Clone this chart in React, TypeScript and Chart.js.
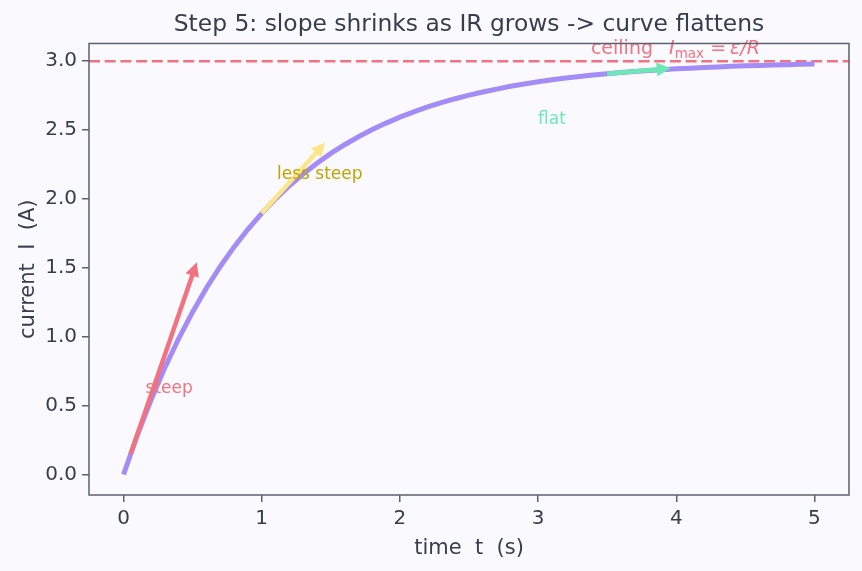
import React, { useEffect, useRef } from "react";
import { Chart, registerables } from "chart.js";

Chart.register(...registerables);

// ---- data ----
const timeValues = [
  0, 0.1, 0.2, 0.3, 0.4, 0.5, 0.6, 0.7, 0.8, 0.9,
  1.0, 1.1, 1.2, 1.3, 1.4, 1.5, 1.6, 1.7, 1.8, 1.9,
  2.0, 2.1, 2.2, 2.3, 2.4, 2.5, 2.6, 2.7, 2.8, 2.9,
  3.0, 3.1, 3.2, 3.3, 3.4, 3.5, 3.6, 3.7, 3.8, 3.9,
  4.0, 4.1, 4.2, 4.3, 4.4, 4.5, 4.6, 4.7, 4.8, 4.9, 5.0,
];
const currentValues = [
  0.0, 0.285, 0.544, 0.778, 0.989, 1.18, 1.354, 1.51, 1.652, 1.78,
  1.896, 2.001, 2.096, 2.182, 2.26, 2.331, 2.394, 2.452, 2.504, 2.551,
  2.594, 2.633, 2.668, 2.699, 2.728, 2.754, 2.777, 2.798, 2.818, 2.835,
  2.851, 2.865, 2.878, 2.889, 2.9, 2.909, 2.918, 2.926, 2.933, 2.939,
  2.945, 2.95, 2.955, 2.959, 2.963, 2.967, 2.97, 2.973, 2.975, 2.978, 2.98,
];
const ceilingValue = 3.0;
const xTickValues = [0, 1, 2, 3, 4, 5];
const yTickValues = [0, 0.5, 1.0, 1.5, 2.0, 2.5, 3.0];

const arrowLabels = ["steep", "less steep", "flat"];
const arrowStartT = [0.05, 1.0, 3.5];
const arrowStartI = [0.146, 1.896, 2.909];
const arrowEndT = [0.53, 1.46, 3.96];
const arrowEndI = [1.54, 2.41, 2.95];
const labelT = [0.33, 1.42, 3.1];
const labelI = [0.625, 2.175, 2.575];
const arrowColors = ["#f2727f", "#fde68a", "#6ee7b7"];
const labelColors = ["#f2727f", "#bfa300", "#6ee7b7"];

const ceilingLabelT = 3.994;
const ceilingLabelI = 3.095;

const TITLE = "Step 5: slope shrinks as IR grows -> curve flattens";
const X_TITLE = "time  t  (s)";
const Y_TITLE = "current  I  (A)";

const FONT = "'DejaVu Sans', sans-serif";
const TEXT = "#363d4d";
const SPINE = "#5b6170";
const RED = "#f2727f";
const PURPLE = "#a48cf7";

const overlay = {
  id: "overlay",
  afterDatasetsDraw(chart: any) {
    const { ctx } = chart;
    const x = chart.scales.x;
    const y = chart.scales.y;
    ctx.save();
    // arrows
    for (let i = 0; i < arrowLabels.length; i++) {
      const x0 = x.getPixelForValue(arrowStartT[i]);
      const y0 = y.getPixelForValue(arrowStartI[i]);
      const x1 = x.getPixelForValue(arrowEndT[i]);
      const y1 = y.getPixelForValue(arrowEndI[i]);
      const ang = Math.atan2(y1 - y0, x1 - x0);
      const headLen = 14;
      const headHalf = 7;
      const bx = x1 - headLen * Math.cos(ang);
      const by = y1 - headLen * Math.sin(ang);
      ctx.strokeStyle = arrowColors[i];
      ctx.fillStyle = arrowColors[i];
      ctx.lineWidth = 4.5;
      ctx.lineCap = "butt";
      ctx.beginPath();
      ctx.moveTo(x0, y0);
      ctx.lineTo(bx + 2 * Math.cos(ang), by + 2 * Math.sin(ang));
      ctx.stroke();
      ctx.beginPath();
      ctx.moveTo(x1, y1);
      ctx.lineTo(bx + headHalf * Math.sin(ang), by - headHalf * Math.cos(ang));
      ctx.lineTo(bx - headHalf * Math.sin(ang), by + headHalf * Math.cos(ang));
      ctx.closePath();
      ctx.fill();
    }
    // labels
    ctx.font = `17px ${FONT}`;
    ctx.textAlign = "center";
    ctx.textBaseline = "middle";
    for (let i = 0; i < arrowLabels.length; i++) {
      ctx.fillStyle = labelColors[i];
      ctx.fillText(arrowLabels[i], x.getPixelForValue(labelT[i]), y.getPixelForValue(labelI[i]));
    }
    // ceiling label: "ceiling  I_max = ε/R"
    const parts = [
      { t: "ceiling  ", f: `19px ${FONT}`, dy: 0, after: 4 },
      { t: "I", f: `italic 19px ${FONT}`, dy: 0, after: 0 },
      { t: "max", f: `13.5px ${FONT}`, dy: 4, after: 0 },
      { t: " = ", f: `19px ${FONT}`, dy: 0, after: -2 },
      { t: "ε/R", f: `italic 19px ${FONT}`, dy: 0, after: 0 },
    ];
    let total = 0;
    const widths: number[] = [];
    for (const p of parts) {
      ctx.font = p.f;
      const w = ctx.measureText(p.t).width + p.after;
      widths.push(w);
      total += w;
    }
    let cx = x.getPixelForValue(ceilingLabelT) - total / 2;
    const cy = y.getPixelForValue(ceilingLabelI);
    ctx.textAlign = "left";
    ctx.textBaseline = "alphabetic";
    ctx.fillStyle = RED;
    parts.forEach((p, i) => {
      ctx.font = p.f;
      ctx.fillText(p.t, cx, cy + 6 + p.dy);
      cx += widths[i];
    });
    ctx.restore();
  },
  afterDraw(chart: any) {
    const { ctx, chartArea } = chart;
    ctx.save();
    ctx.strokeStyle = SPINE;
    ctx.lineWidth = 1.5;
    ctx.strokeRect(chartArea.left, chartArea.top, chartArea.right - chartArea.left, chartArea.bottom - chartArea.top);
    ctx.restore();
  },
};

export default function App() {
  const ref = useRef<HTMLCanvasElement | null>(null);
  useEffect(() => {
    if (!ref.current) return;
    const curve = timeValues.map((t, i) => ({ x: t, y: currentValues[i] }));
    const chart = new Chart(ref.current, {
      type: "line",
      data: {
        datasets: [
          {
            label: "ceiling",
            data: [
              { x: -0.25, y: ceilingValue },
              { x: 5.25, y: ceilingValue },
            ],
            borderColor: RED,
            borderWidth: 2.5,
            borderDash: [11, 4.7],
            pointRadius: 0,
            fill: false,
            order: 2,
          },
          {
            label: "I(t)",
            data: curve,
            borderColor: PURPLE,
            borderWidth: 5,
            pointRadius: 0,
            tension: 0,
            fill: false,
            order: 1,
          },
        ],
      },
      options: {
        responsive: false,
        animation: false,
        layout: { padding: { top: 0, left: 0, right: 13, bottom: 0 } },
        plugins: {
          legend: { display: false },
          tooltip: { enabled: false },
          title: {
            display: true,
            fullSize: false,
            text: TITLE,
            color: TEXT,
            font: { family: FONT, size: 23.4, weight: "normal" },
            padding: { top: 11, bottom: 4.4 },
          },
        },
        scales: {
          x: {
            type: "linear",
            min: -0.25,
            max: 5.25,
            afterBuildTicks: (s: any) => {
              s.ticks = xTickValues.map((v) => ({ value: v }));
            },
            afterFit: (s: any) => {
              s.height = 76;
            },
            ticks: {
              color: TEXT,
              font: { family: FONT, size: 20 },
              padding: 5,
              maxRotation: 0,
              autoSkip: false,
              callback: (v: any) => String(v),
            },
            grid: { drawOnChartArea: false, drawTicks: true, tickLength: 7, color: SPINE, lineWidth: 1.5 },
            border: { display: false },
            title: {
              display: true,
              text: X_TITLE,
              color: TEXT,
              font: { family: FONT, size: 21 },
              padding: { top: 0, bottom: 9.5 },
            },
          },
          y: {
            type: "linear",
            min: -0.149,
            max: 3.129,
            afterBuildTicks: (s: any) => {
              s.ticks = yTickValues.map((v) => ({ value: v }));
            },
            afterFit: (s: any) => {
              s.width = 89;
            },
            ticks: {
              color: TEXT,
              font: { family: FONT, size: 20 },
              padding: 5,
              autoSkip: false,
              callback: (v: any) => Number(v).toFixed(1),
            },
            grid: { drawOnChartArea: false, drawTicks: true, tickLength: 7, color: SPINE, lineWidth: 1.5 },
            border: { display: false },
            title: {
              display: true,
              text: Y_TITLE,
              color: TEXT,
              font: { family: FONT, size: 21 },
              padding: { top: 16, bottom: 0 },
            },
          },
        },
      },
      plugins: [overlay],
    } as any);
    return () => chart.destroy();
  }, []);

  return (
    <div style={{ position: "fixed", left: 0, top: 0, width: 862, height: 571, background: "#fafafe" }}>
      <canvas ref={ref} width={862} height={571} style={{ display: "block" }} />
    </div>
  );
}
